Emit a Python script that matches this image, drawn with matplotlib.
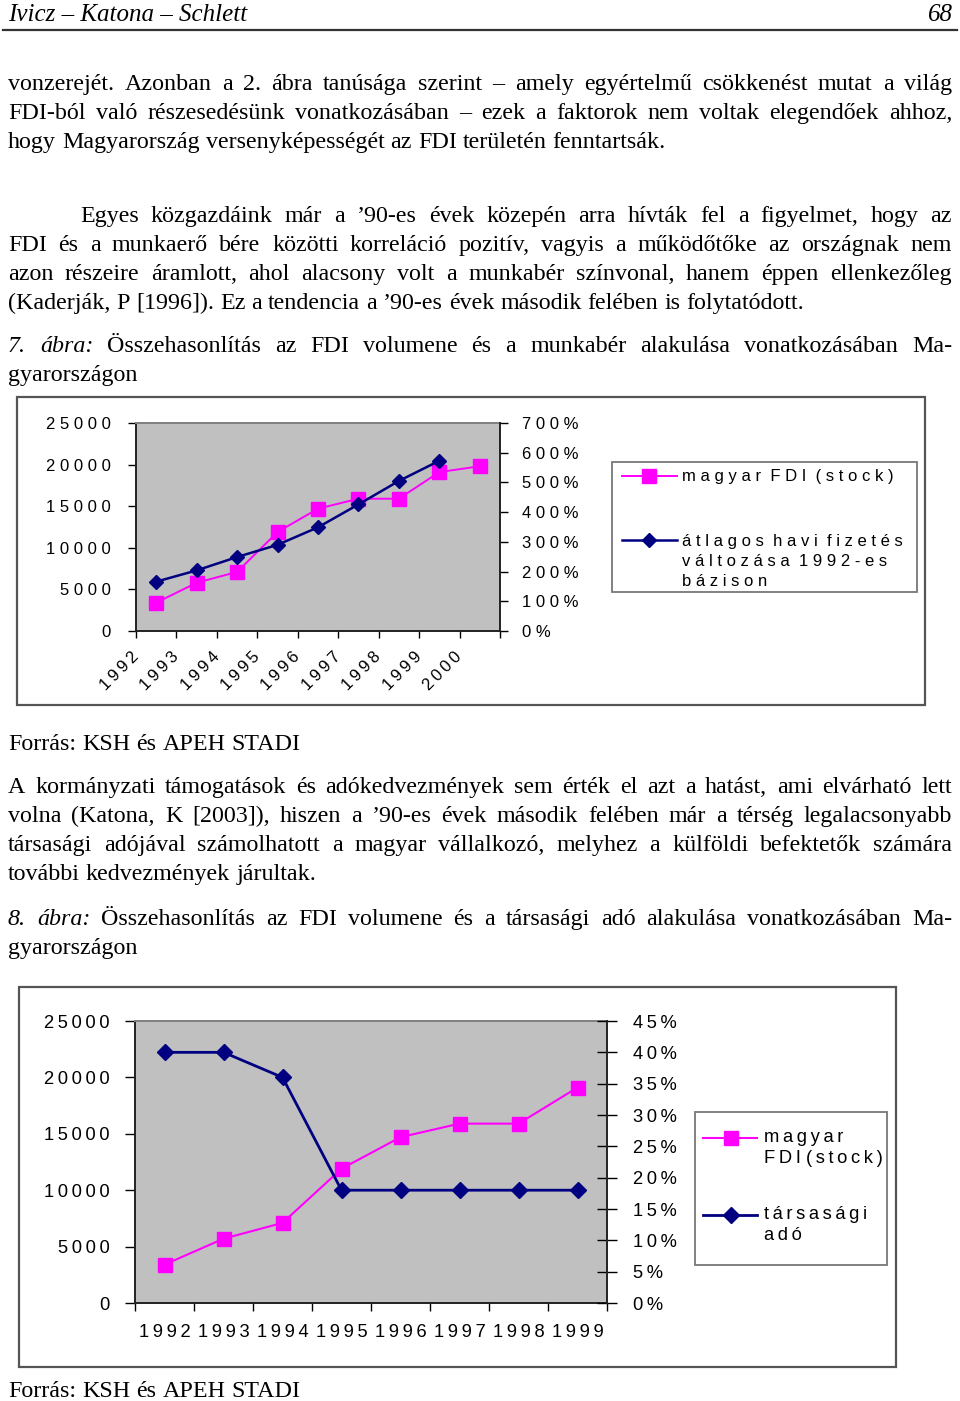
import matplotlib
matplotlib.use('Agg')
import matplotlib.pyplot as plt
from matplotlib.lines import Line2D
from matplotlib.patches import Rectangle
import numpy as np

# ---------------- data ----------------
years_fig7 = ['1992', '1993', '1994', '1995', '1996', '1997', '1998', '1999', '2000']
fdi_stock_fig7 = [3400, 5800, 7100, 11900, 14700, 15900, 15900, 19100, 19800]
wage_change_pct = [166, 204, 249, 290, 349, 426, 505, 573]          # 1992-1999
left_ticks_fig7 = [0, 5000, 10000, 15000, 20000, 25000]
right_ticks_fig7 = [0, 100, 200, 300, 400, 500, 600, 700]
legend_fig7 = ['magyar FDI (stock)', 'átlagos havi fizetés\nváltozása 1992-es\nbázison']

years_fig8 = ['1992', '1993', '1994', '1995', '1996', '1997', '1998', '1999']
fdi_stock_fig8 = [3400, 5700, 7100, 11900, 14700, 15900, 15900, 19100]
corp_tax_pct = [40, 40, 36, 18, 18, 18, 18, 18]
left_ticks_fig8 = [0, 5000, 10000, 15000, 20000, 25000]
right_ticks_fig8 = [0, 5, 10, 15, 20, 25, 30, 35, 40, 45]
legend_fig8 = ['magyar\nFDI (stock)', 'társasági\nadó']

header_left = 'Ivicz – Katona – Schlett'
header_right = '68'
para1 = ['vonzerejét. Azonban a 2. ábra tanúsága szerint – amely egyértelmű csökkenést mutat a világ',
         'FDI-ból való részesedésünk vonatkozásában – ezek a faktorok nem voltak elegendőek ahhoz,',
         'hogy Magyarország versenyképességét az FDI területén fenntartsák.']
para2 = ['Egyes közgazdáink már a ’90-es évek közepén arra hívták fel a figyelmet, hogy az',
         'FDI és a munkaerő bére közötti korreláció pozitív, vagyis a működőtőke az országnak nem',
         'azon részeire áramlott, ahol alacsony volt a munkabér színvonal, hanem éppen ellenkezőleg',
         '(Kaderják, P [1996]). Ez a tendencia a ’90-es évek második felében is folytatódott.']
caption7 = ['7. ábra: Összehasonlítás az FDI volumene és a munkabér alakulása vonatkozásában Ma-',
            'gyarországon']
source = 'Forrás: KSH és APEH STADI'
para3 = ['A kormányzati támogatások és adókedvezmények sem érték el azt a hatást, ami elvárható lett',
         'volna (Katona, K [2003]), hiszen a ’90-es évek második felében már a térség legalacsonyabb',
         'társasági adójával számolhatott a magyar vállalkozó, melyhez a külföldi befektetők számára',
         'további kedvezmények járultak.']
caption8 = ['8. ábra: Összehasonlítás az FDI volumene és a társasági adó alakulása vonatkozásában Ma-',
            'gyarországon']

# ---------------- helpers ----------------
W, H = 960, 1401
fig = plt.figure(figsize=(W / 100, H / 100), dpi=100)
renderer = fig.canvas.get_renderer()

SERIF = ['Liberation Serif', 'DejaVu Serif']
SANS = ['Liberation Sans', 'DejaVu Sans']
BODY = 17.3
MAGENTA = '#ff00ff'
NAVY = '#000080'
THIN = '\u2009'
F7 = 12
F8 = 13.2


def fx(x):
    return x / W


def fy(y):
    return 1 - y / H


def spaced(s, sep=' ', wsep='  '):
    lines = []
    for ln in s.split('\n'):
        lines.append(wsep.join(sep.join(w) for w in ln.split(' ')))
    return '\n'.join(lines)


def body_line(line, x0, y, x1=952, justify=True, italic_words=0, size=BODY):
    words = line.split(' ')
    arts, widths = [], []
    for i, w in enumerate(words):
        st = 'italic' if i < italic_words else 'normal'
        t = fig.text(fx(x0), fy(y), w, fontsize=size, family=SERIF, style=st,
                     va='baseline', ha='left', color='black')
        arts.append(t)
        widths.append(t.get_window_extent(renderer).width)
    space = size * 0.25 * 100 / 72
    if justify and len(words) > 1:
        gap = (x1 - x0 - sum(widths)) / (len(words) - 1)
    else:
        gap = space
    x = x0
    for t, w in zip(arts, widths):
        t.set_x(fx(x))
        x += w + gap


def paragraph(lines, x0, y0, first_indent=None, italic_first=0):
    for i, ln in enumerate(lines):
        xs = first_indent if (i == 0 and first_indent is not None) else x0
        just = i < len(lines) - 1
        body_line(ln, xs, y0 + 29 * i, justify=just,
                  italic_words=italic_first if i == 0 else 0)


# ---------------- page text ----------------
fig.text(fx(8), fy(21), header_left, fontsize=18, family=SERIF, style='italic', va='baseline')
fig.text(fx(953), fy(21), header_right, fontsize=18, family=SERIF, style='italic', va='baseline', ha='right')
fig.add_artist(Line2D([fx(3), fx(957)], [fy(30), fy(30)], lw=1.6, color='#333333'))

paragraph(para1, 8, 90)
paragraph(para2, 8, 222, first_indent=80)
paragraph(caption7, 8, 352, italic_first=2)
body_line(source, 8, 750, justify=False)
paragraph(para3, 8, 793)
paragraph(caption8, 8, 925, italic_first=2)
body_line(source, 8, 1397, justify=False)

# ---------------- figure 7 ----------------
fig.add_artist(Rectangle((fx(17), fy(705)), (925 - 17) / W, (705 - 397) / H,
                         transform=fig.transFigure, fill=False, ec='#555555', lw=1.6))
ax1 = fig.add_axes([fx(136), fy(631), (500 - 136) / W, (631 - 423) / H])
ax1.set_facecolor('#c0c0c0')
x7 = np.arange(len(years_fig7)) + 0.5
ax1.plot(x7, fdi_stock_fig7, color=MAGENTA, lw=1.4, marker='s', ms=9.5,
         mfc=MAGENTA, mec=MAGENTA, zorder=3)
ax1.set_xlim(0, len(years_fig7))
ax1.set_ylim(0, 25000)
ax1.set_yticks(left_ticks_fig7)
ax1.set_yticklabels([spaced(str(v)) for v in left_ticks_fig7], fontsize=F7, family=SANS)
ax1.set_xticks(np.arange(len(years_fig7) + 1))
ax1.set_xticklabels([spaced(y, sep=THIN) for y in years_fig7] + [''], fontsize=F7, family=SANS,
                    rotation=45, ha='right', va='center', rotation_mode='anchor')
ax1.tick_params(axis='y', direction='out', length=6, width=1, pad=12, colors='black')
ax1.tick_params(axis='x', direction='out', length=5, width=1, pad=12)
for s in ['left', 'bottom']:
    ax1.spines[s].set_color('#222222'); ax1.spines[s].set_linewidth(1.4)
ax1.spines['top'].set_color('#808080'); ax1.spines['top'].set_linewidth(1.4)
ax1.spines['right'].set_visible(False)

ax1r = ax1.twinx()
x7b = np.arange(len(wage_change_pct)) + 0.5
ax1r.plot(x7b, wage_change_pct, color=NAVY, lw=1.8, marker='D', ms=7.5,
          mfc=NAVY, mec=NAVY, zorder=4)
ax1r.set_ylim(0, 700)
ax1r.set_yticks(right_ticks_fig7)
ax1r.set_yticklabels([spaced(f'{v}%') for v in right_ticks_fig7], fontsize=F7, family=SANS)
ax1r.tick_params(axis='y', direction='out', length=6, width=1, pad=10)
ax1r.spines['right'].set_color('#222222'); ax1r.spines['right'].set_linewidth(1.4)
for s in ['left', 'top', 'bottom']:
    ax1r.spines[s].set_visible(False)

# legend 7
fig.add_artist(Rectangle((fx(612), fy(592)), (917 - 612) / W, (592 - 462) / H,
                         transform=fig.transFigure, fill=False, ec='#777777', lw=1.3))
fig.add_artist(Line2D([fx(622), fx(677)], [fy(476), fy(476)], color=MAGENTA, lw=1.4))
fig.add_artist(Line2D([fx(649)], [fy(476)], color=MAGENTA, marker='s', ms=9.5, lw=0))
fig.text(fx(682), fy(476), spaced(legend_fig7[0]), fontsize=F7, family=SANS, va='center')
fig.add_artist(Line2D([fx(622), fx(677)], [fy(540), fy(540)], color=NAVY, lw=1.8))
fig.add_artist(Line2D([fx(649)], [fy(540)], color=NAVY, marker='D', ms=7.5, lw=0))
fig.text(fx(682), fy(534), spaced(legend_fig7[1]), fontsize=F7, family=SANS, va='top',
         linespacing=1.4)

# ---------------- figure 8 ----------------
fig.add_artist(Rectangle((fx(19), fy(1367)), (896 - 19) / W, (1367 - 987) / H,
                         transform=fig.transFigure, fill=False, ec='#555555', lw=1.6))
ax2 = fig.add_axes([fx(135), fy(1303), (607 - 135) / W, (1303 - 1021) / H])
ax2.set_facecolor('#c0c0c0')
x8 = np.arange(len(years_fig8)) + 0.5
ax2.plot(x8, fdi_stock_fig8, color=MAGENTA, lw=1.5, marker='s', ms=10.5,
         mfc=MAGENTA, mec=MAGENTA, zorder=3)
ax2.set_xlim(0, len(years_fig8))
ax2.set_ylim(0, 25000)
ax2.set_yticks(left_ticks_fig8)
ax2.set_yticklabels([spaced(str(v), sep=THIN) for v in left_ticks_fig8], fontsize=F8, family=SANS)
ax2.set_xticks(np.arange(len(years_fig8) + 1))
ax2.set_xticklabels([])
ax2.set_xticks(x8, minor=True)
ax2.set_xticklabels([spaced(y, sep=THIN) for y in years_fig8], minor=True, fontsize=F8, family=SANS)
ax2.tick_params(axis='x', which='major', direction='out', length=6, width=1)
ax2.tick_params(axis='x', which='minor', length=0, pad=15)
ax2.tick_params(axis='y', direction='out', length=7, width=1, pad=11)
for s in ['left', 'bottom']:
    ax2.spines[s].set_color('#222222'); ax2.spines[s].set_linewidth(1.4)
ax2.spines['top'].set_color('#808080'); ax2.spines['top'].set_linewidth(1.4)
ax2.spines['right'].set_visible(False)

ax2r = ax2.twinx()
ax2r.plot(x8, corp_tax_pct, color=NAVY, lw=2.0, marker='D', ms=8,
          mfc=NAVY, mec=NAVY, zorder=4)
ax2r.set_ylim(0, 45)
ax2r.set_yticks(right_ticks_fig8)
ax2r.set_yticklabels([spaced(f'{v}%', sep=THIN) for v in right_ticks_fig8], fontsize=F8, family=SANS)
ax2r.tick_params(axis='y', direction='inout', length=14, width=1, pad=12)
ax2r.spines['right'].set_color('#222222'); ax2r.spines['right'].set_linewidth(1.4)
for s in ['left', 'top', 'bottom']:
    ax2r.spines[s].set_visible(False)

# legend 8
fig.add_artist(Rectangle((fx(695), fy(1265)), (887 - 695) / W, (1265 - 1112) / H,
                         transform=fig.transFigure, fill=False, ec='#777777', lw=1.3))
fig.add_artist(Line2D([fx(703), fx(757)], [fy(1138), fy(1138)], color=MAGENTA, lw=1.5))
fig.add_artist(Line2D([fx(731)], [fy(1138)], color=MAGENTA, marker='s', ms=10.5, lw=0))
fig.text(fx(764), fy(1129), spaced(legend_fig8[0], sep=THIN, wsep=' '),
         fontsize=F8, family=SANS, va='top', linespacing=1.3)
fig.add_artist(Line2D([fx(703), fx(757)], [fy(1215), fy(1215)], color=NAVY, lw=2.0))
fig.add_artist(Line2D([fx(731)], [fy(1215)], color=NAVY, marker='D', ms=8, lw=0))
fig.text(fx(764), fy(1206), spaced(legend_fig8[1], sep=THIN, wsep=' '),
         fontsize=F8, family=SANS, va='top', linespacing=1.3)

fig.savefig('out.png', dpi=100, facecolor='white')
